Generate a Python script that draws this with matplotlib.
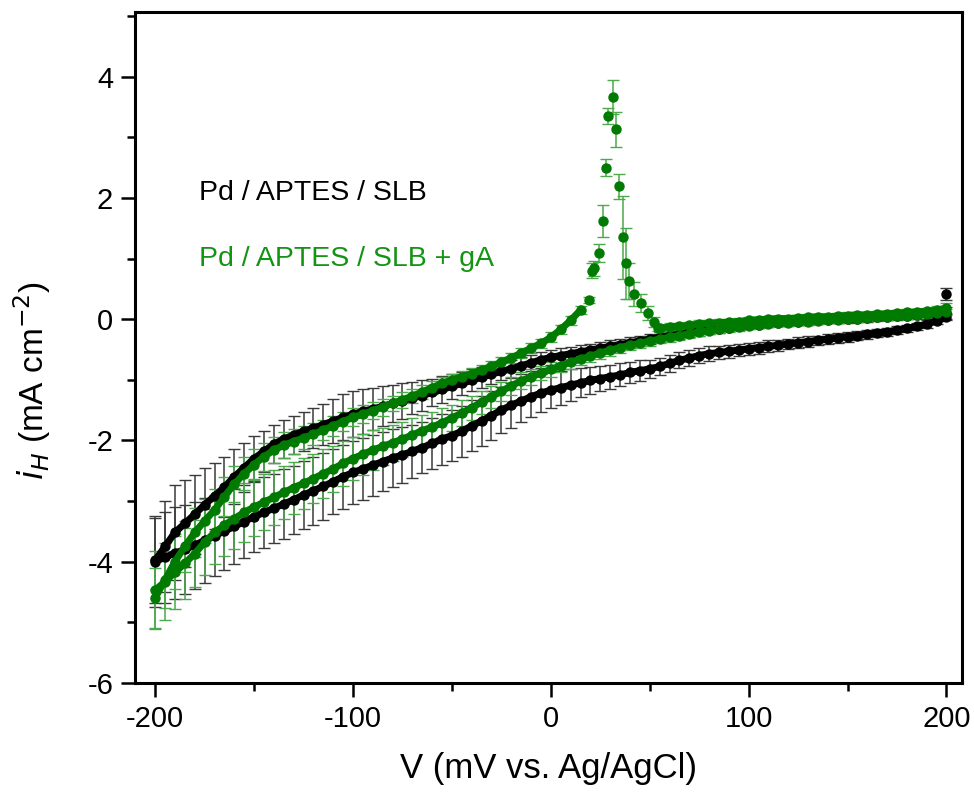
import numpy as np
import matplotlib
matplotlib.use("Agg")
import matplotlib.pyplot as plt
from matplotlib.ticker import MultipleLocator

plt.rcParams['font.family'] = ['Liberation Sans', 'DejaVu Sans']
plt.rcParams['axes.unicode_minus'] = False

#scan potentials (mV), 5 mV steps
v_full = np.arange(-200, 205, 5)
v_pre = np.arange(-200, 20, 5)
v_post = np.arange(55, 205, 5)

#Pd / APTES / SLB, upper and lower branch
black_up = [-3.98, -3.75, -3.52, -3.37, -3.22, -3.06, -2.92, -2.77, -2.60, -2.45, -2.30,
            -2.18, -2.06, -1.98, -1.91, -1.85, -1.80, -1.74, -1.68, -1.62, -1.57,
            -1.52, -1.48, -1.44, -1.39, -1.35, -1.30, -1.26, -1.21, -1.16, -1.11,
            -1.06, -1.01, -0.96, -0.91, -0.86, -0.82, -0.77, -0.72, -0.67, -0.63,
            -0.60, -0.57, -0.54, -0.51, -0.48, -0.45, -0.42, -0.39, -0.36, -0.33,
            -0.30, -0.27, -0.25, -0.22, -0.20, -0.18, -0.16, -0.14, -0.12, -0.10,
            -0.09, -0.07, -0.06, -0.05, -0.04, -0.03, -0.02, -0.01, 0.00, 0.00,
            0.01, 0.02, 0.03, 0.04, 0.05, 0.06, 0.07, 0.08, 0.09, 0.10]
black_up_err = [0.70, 0.75, 0.78, 0.72, 0.65, 0.60, 0.55, 0.50, 0.45, 0.40, 0.38,
                0.34, 0.32, 0.31, 0.31, 0.32, 0.33, 0.34, 0.36, 0.38, 0.38,
                0.37, 0.35, 0.33, 0.31, 0.29, 0.27, 0.25, 0.23, 0.22, 0.20,
                0.19, 0.18, 0.17, 0.16, 0.15, 0.15, 0.14, 0.13, 0.13, 0.12,
                0.12, 0.11, 0.11, 0.10, 0.10, 0.10, 0.09, 0.09, 0.08, 0.08,
                0.08, 0.08, 0.07, 0.07, 0.07, 0.07, 0.07, 0.06, 0.06, 0.06,
                0.06, 0.06, 0.06, 0.06, 0.06, 0.06, 0.06, 0.06, 0.06, 0.06,
                0.06, 0.06, 0.06, 0.06, 0.06, 0.06, 0.06, 0.07, 0.08, 0.10]
black_lo = [-4.00, -3.93, -3.86, -3.80, -3.73, -3.65, -3.57, -3.50, -3.42, -3.34, -3.26,
            -3.19, -3.12, -3.05, -2.98, -2.90, -2.83, -2.76, -2.68, -2.60, -2.53,
            -2.47, -2.41, -2.35, -2.29, -2.24, -2.18, -2.12, -2.05, -1.98, -1.92,
            -1.85, -1.76, -1.68, -1.59, -1.50, -1.42, -1.35, -1.28, -1.22, -1.17,
            -1.13, -1.09, -1.05, -1.01, -0.98, -0.95, -0.92, -0.88, -0.85, -0.82,
            -0.78, -0.73, -0.68, -0.64, -0.60, -0.57, -0.55, -0.53, -0.51, -0.49,
            -0.47, -0.45, -0.43, -0.41, -0.39, -0.37, -0.35, -0.33, -0.31, -0.29,
            -0.27, -0.25, -0.23, -0.21, -0.18, -0.15, -0.12, -0.08, -0.03, 0.03]
black_lo_err = [0.75, 0.75, 0.76, 0.74, 0.72, 0.70, 0.67, 0.64, 0.62, 0.60, 0.59,
                0.58, 0.57, 0.57, 0.56, 0.56, 0.56, 0.55, 0.54, 0.53, 0.52,
                0.51, 0.50, 0.49, 0.48, 0.46, 0.44, 0.42, 0.42, 0.42, 0.42,
                0.42, 0.42, 0.41, 0.40, 0.38, 0.37, 0.35, 0.33, 0.31, 0.30,
                0.28, 0.26, 0.24, 0.22, 0.21, 0.20, 0.19, 0.18, 0.17, 0.15,
                0.14, 0.14, 0.13, 0.13, 0.12, 0.12, 0.11, 0.11, 0.10, 0.10,
                0.10, 0.10, 0.09, 0.09, 0.09, 0.09, 0.08, 0.08, 0.08, 0.08,
                0.08, 0.07, 0.07, 0.07, 0.07, 0.06, 0.06, 0.06, 0.05, 0.05]
black_end_v = [200]
black_end_i = [0.42]
black_end_err = [0.10]

#Pd / APTES / SLB + gA, forward branch before the peak
green_pre = [-4.60, -4.30, -4.00, -3.75, -3.52, -3.33, -3.15, -2.93, -2.72, -2.55,
             -2.40, -2.27, -2.16, -2.08, -2.02, -1.96, -1.90, -1.83, -1.76, -1.69,
             -1.62, -1.57, -1.51, -1.45, -1.39, -1.33, -1.27, -1.20, -1.13, -1.06,
             -1.00, -0.95, -0.90, -0.84, -0.78, -0.71, -0.64, -0.56, -0.48, -0.40,
             -0.30, -0.17, -0.02, 0.15]
green_pre_err = [0.50, 0.47, 0.45, 0.42, 0.40, 0.37, 0.35, 0.32, 0.30, 0.27,
                 0.25, 0.23, 0.22, 0.21, 0.20, 0.19, 0.18, 0.17, 0.16, 0.16,
                 0.15, 0.15, 0.14, 0.14, 0.13, 0.13, 0.12, 0.12, 0.11, 0.11,
                 0.10, 0.10, 0.10, 0.09, 0.09, 0.09, 0.08, 0.08, 0.08, 0.08,
                 0.08, 0.07, 0.07, 0.06]

#anodic peak points
peak_v = [19.5, 20.7, 21.8, 24.3, 26.3, 27.8, 28.8, 31.5, 32.9, 34.4, 36.4, 37.8,
          39.5, 42.0, 45.5, 49.0, 52.0, 54.0]
peak_i = [0.32, 0.80, 0.84, 1.09, 1.62, 2.50, 3.35, 3.66, 3.13, 2.19, 1.35, 0.92,
          0.63, 0.42, 0.26, 0.10, -0.05, -0.15]
peak_err = [0.05, 0.12, 0.12, 0.15, 0.27, 0.14, 0.13, 0.28, 0.29, 0.20, 0.68, 0.59,
            0.30, 0.20, 0.15, 0.12, 0.08, 0.05]

#forward branch after the peak
green_post = [-0.15, -0.13, -0.12, -0.10, -0.08, -0.07, -0.06, -0.05, -0.04, -0.02,
              -0.01, 0.00, 0.01, 0.01, 0.02, 0.03, 0.04, 0.04, 0.05, 0.06,
              0.07, 0.07, 0.08, 0.09, 0.10, 0.11, 0.12, 0.13, 0.15, 0.18]
green_post_err = [0.06, 0.06, 0.06, 0.06, 0.06, 0.06, 0.06, 0.06, 0.06, 0.06,
                  0.05, 0.05, 0.05, 0.05, 0.05, 0.05, 0.05, 0.05, 0.05, 0.05,
                  0.05, 0.05, 0.05, 0.05, 0.05, 0.05, 0.05, 0.06, 0.07, 0.08]

#reverse branch
green_lo = [-4.47, -4.33, -4.18, -4.03, -3.87, -3.68, -3.52, -3.40, -3.29, -3.19, -3.10,
            -3.02, -2.94, -2.86, -2.78, -2.71, -2.63, -2.55, -2.47, -2.38, -2.30,
            -2.23, -2.16, -2.10, -2.04, -1.98, -1.91, -1.84, -1.78, -1.71, -1.63,
            -1.55, -1.46, -1.37, -1.28, -1.19, -1.10, -1.02, -0.95, -0.89, -0.83,
            -0.77, -0.71, -0.66, -0.61, -0.56, -0.51, -0.47, -0.43, -0.40, -0.36,
            -0.33, -0.30, -0.27, -0.24, -0.21, -0.19, -0.17, -0.15, -0.13, -0.11,
            -0.10, -0.08, -0.07, -0.06, -0.05, -0.04, -0.03, -0.02, -0.01, 0.00,
            0.01, 0.02, 0.03, 0.04, 0.05, 0.06, 0.07, 0.08, 0.10, 0.12]
green_lo_err = [0.65, 0.63, 0.60, 0.58, 0.55, 0.54, 0.52, 0.51, 0.50, 0.48, 0.47,
                0.46, 0.45, 0.44, 0.43, 0.42, 0.41, 0.40, 0.38, 0.37, 0.35,
                0.34, 0.33, 0.31, 0.30, 0.29, 0.28, 0.26, 0.25, 0.24, 0.22,
                0.21, 0.20, 0.19, 0.18, 0.16, 0.15, 0.14, 0.13, 0.12, 0.12,
                0.11, 0.11, 0.10, 0.10, 0.09, 0.09, 0.09, 0.08, 0.08, 0.08,
                0.07, 0.07, 0.07, 0.07, 0.07, 0.06, 0.06, 0.06, 0.06, 0.06,
                0.05, 0.05, 0.05, 0.05, 0.05, 0.05, 0.05, 0.05, 0.05, 0.05,
                0.05, 0.05, 0.05, 0.05, 0.05, 0.05, 0.05, 0.05, 0.05, 0.05]

BLACK = "#000000"
GREEN = "#007a00"
GREEN_ERR = "#4caa4c"

fig = plt.figure(figsize=(9.74, 7.93), dpi=100)
ax = fig.add_axes([0.139, 0.139, 0.849, 0.846])

def draw(x, y, err, color, ecolor, line=True):
    ax.errorbar(x, y, yerr=err, fmt="-o" if line else "o", color=color, ms=6.5, lw=5 if line else 0,
                ecolor=ecolor, elinewidth=1.1, capsize=4, capthick=1.0, zorder=3)

#black data first, green on top
draw(v_full, black_lo, black_lo_err, BLACK, "#3a3a3a")
draw(v_full, black_up, black_up_err, BLACK, "#3a3a3a")
draw(black_end_v, black_end_i, black_end_err, BLACK, "#3a3a3a", line=False)

draw(v_full, green_lo, green_lo_err, GREEN, GREEN_ERR)
draw(v_pre, green_pre, green_pre_err, GREEN, GREEN_ERR)
draw(peak_v, peak_i, peak_err, GREEN, GREEN_ERR, line=False)
draw(v_post, green_post, green_post_err, GREEN, GREEN_ERR)

ax.set_xlim(-210, 208)
ax.set_ylim(-6, 5.07)
ax.xaxis.set_major_locator(MultipleLocator(100))
ax.xaxis.set_minor_locator(MultipleLocator(50))
ax.yaxis.set_major_locator(MultipleLocator(2))
ax.yaxis.set_minor_locator(MultipleLocator(1))
ax.tick_params(which="major", direction="out", length=10, width=1.8, labelsize=21, pad=6)
ax.tick_params(which="minor", direction="out", length=5.5, width=1.8)
for s in ax.spines.values():
    s.set_linewidth(2.2)

ax.set_xlabel("V (mV vs. Ag/AgCl)", fontsize=25)
ax.xaxis.set_label_coords(0.5, -0.103)
ax.set_ylabel(r"$i_{H}$ (mA cm$^{-2}$)", fontsize=24)
ax.yaxis.set_label_coords(-0.100, 0.45)

ax.text(-178, 2.08, "Pd / APTES / SLB", color=BLACK, fontsize=20.5, va="center")
ax.text(-178, 1.0, "Pd / APTES / SLB + gA", color="#149414", fontsize=20.5, va="center")

fig.savefig("out.png", dpi=100)
